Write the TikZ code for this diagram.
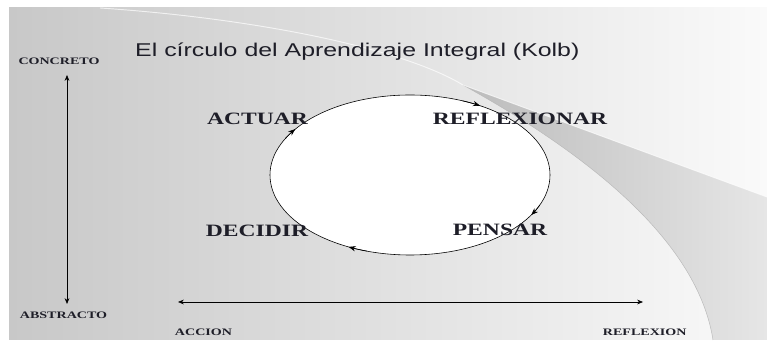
\documentclass[tikz,border=0pt]{standalone}
\usepackage{fontspec}
\setmainfont{Liberation Serif}[FakeStretch=1.36]
\newfontfamily\polofont{Liberation Serif}[FakeStretch=1.42]
\newfontfamily\titulofont{Liberation Sans}[FakeStretch=1.345]
\usepackage{tikz}
\usetikzlibrary{arrows.meta}

\definecolor{fondoizq}{RGB}{200,200,200}
\definecolor{fondomed}{RGB}{233,233,233}
\definecolor{fondoder}{RGB}{250,250,250}
\definecolor{cunaizq}{RGB}{188,188,188}
\definecolor{cunader}{RGB}{230,230,230}
\definecolor{tinta}{RGB}{30,30,40}

\tikzset{
  etapa/.style={font=\bfseries\fontsize{14.8}{16}\selectfont, text=tinta, inner sep=0pt},
  polo/.style={font=\polofont\bfseries\fontsize{8.45}{10}\selectfont, text=tinta, inner sep=0pt},
  punta/.style={-{Stealth[length=6pt,width=4.5pt]}, line width=0.5pt},
  eje/.style={{Stealth[length=5pt,width=4pt]}-{Stealth[length=5pt,width=4pt]}, line width=0.6pt}
}

\begin{document}
\begin{tikzpicture}[x=0.03cm, y=0.03cm]

    \useasboundingbox (0,0) rectangle (767,347);
    \fill[white] (0,0) rectangle (767,347);

    \shade[left color=fondoizq, middle color=fondomed, right color=fondoder]
      (9,7) rectangle (767,339);

    \shade[left color=cunaizq, right color=cunader]
      (463,262) -- (767,150) -- (767,7) -- (713,7)
      .. controls (700,90) and (620,175) .. (463,262) -- cycle;
    \draw[gray!55, line width=0.4pt] (713,7) .. controls (700,90) and (620,175) .. (463,262);
    \draw[white, line width=0.8pt, opacity=0.7]
      (100,339) .. controls (250,329) and (400,300) .. (463,262) -- (767,150);

    \node[anchor=base west, inner sep=0pt, text=tinta,
      font=\titulofont\fontsize{15.8}{18}\selectfont] (titulo) at (135,290)
      {El círculo del Aprendizaje Integral (Kolb)};



    \draw[fill=white, line width=0.5pt] (410,172) ellipse [x radius=140, y radius=80];

    \draw[punta] (410,172) ++(68:140 and 80) arc[start angle=68, end angle=60, x radius=140, y radius=80];

    \draw[punta] (410,172) ++(-22:140 and 80) arc[start angle=-22, end angle=-30, x radius=140, y radius=80];

    \draw[punta] (410,172) ++(-108:140 and 80) arc[start angle=-108, end angle=-116, x radius=140, y radius=80];

    \draw[punta] (410,172) ++(153:140 and 80) arc[start angle=153, end angle=145, x radius=140, y radius=80];



    \node[etapa] (actuar) at (257.5,228) {ACTUAR};

    \node[etapa] (reflexionar) at (520,228.5) {REFLEXIONAR};

    \node[etapa] (decidir) at (257,116.5) {DECIDIR};

    \node[etapa] (pensar) at (500,117) {PENSAR};



    \node[polo] (concreto) at (59,285.3) {CONCRETO};

    \node[polo] (abstracto) at (63.5,32) {ABSTRACTO};

    \node[polo] (accion) at (203.5,15) {ACCION};

    \node[polo] (reflexion) at (644.7,15) {REFLEXION};

    \coordinate (ejesup) at (67,272);
    \coordinate (ejeinf) at (67,43);
    \coordinate (ejeizq) at (178,45);
    \coordinate (ejeder) at (643,45);

    \draw[eje] (ejeinf) -- (ejesup);

    \draw[eje] (ejeizq) -- (ejeder);

  \end{tikzpicture}
\end{document}
